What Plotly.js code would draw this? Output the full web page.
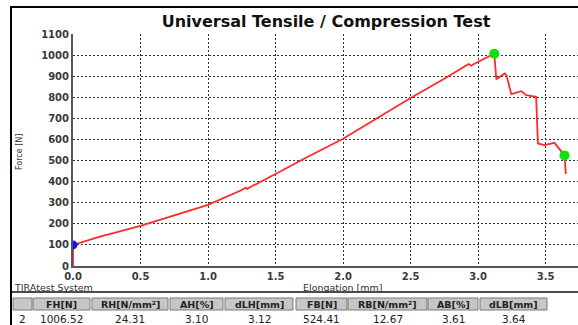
<!DOCTYPE html>
<html>
<head>
<meta charset="utf-8">
<script src="https://cdn.plot.ly/plotly-3.0.1.min.js"></script>
<style>html,body{margin:0;padding:0;background:#fff;}#chart{width:578px;height:325px;}</style>
</head>
<body>
<div id="chart"></div>
<script>
// Curve data: elongation [mm] and force [N]
const elongation = [0, 0, 0.2, 0.5, 0.75, 1.0, 1.25, 1.28, 1.29, 1.3, 1.5, 1.7, 2.0, 2.27, 2.5, 2.75, 2.93, 2.95, 2.97, 3.12, 3.135, 3.197, 3.21, 3.246, 3.32, 3.357, 3.43, 3.443, 3.49, 3.566, 3.64, 3.65];
const force      = [0, 100, 139, 190, 240, 290, 360, 372, 365, 370, 436, 505, 603, 708, 797, 888, 958, 950, 958, 1006.52, 885, 913, 905, 815, 829, 810, 802, 581, 573, 584, 524.41, 436];

// Marked points
const startX = [0], startY = [100];
const keyX = [3.12, 3.64], keyY = [1006.52, 524.41];

// Axis ticks
const xTicks = [0, 0.5, 1.0, 1.5, 2.0, 2.5, 3.0, 3.5];
const yTicks = [0, 100, 200, 300, 400, 500, 600, 700, 800, 900, 1000, 1100];

// Results table
const tableHeaders = ["", "FH[N]", "RH[N/mm²]", "AH[%]", "dLH[mm]", "FB[N]", "RB[N/mm²]", "AB[%]", "dLB[mm]"];
const tableValues  = ["2", "1006.52", "24.31", "3.10", "3.12", "524.41", "12.67", "3.61", "3.64"];

// ---- layout helpers (pixel -> paper) ----
const W = 578, H = 325, ML = 73, MR = 0, MT = 34, MB = 59;
const PW = W - ML - MR, PH = H - MT - MB;
const px = x => (x - ML) / PW;
const py = y => (H - MB - y) / PH;
const FONT = 'DejaVu Sans, Verdana, sans-serif';

const cellEdges = [[13,32],[33,90],[92,168],[170,223],[225,293],[296,347],[348,427],[428,478],[480,547]];

const shapes = [
  {type:'line', xref:'paper', yref:'paper', x0:px(11), x1:px(580), y0:py(7), y1:py(7), line:{color:'#000', width:2}},
  {type:'line', xref:'paper', yref:'paper', x0:px(11), x1:px(11), y0:py(6), y1:py(330), line:{color:'#000', width:2}},
  {type:'line', xref:'paper', yref:'paper', x0:px(11), x1:px(580), y0:py(292), y1:py(292), line:{color:'#111', width:1.5}}
];
const annotations = [
  {text:'TIRAtest System', xref:'paper', yref:'paper', x:px(12), y:py(287), xanchor:'left', yanchor:'middle', showarrow:false, font:{family:FONT, size:9.5, color:'#333'}},
  {text:'Elongation [mm]', xref:'paper', yref:'paper', x:px(342), y:py(287), xanchor:'center', yanchor:'middle', showarrow:false, font:{family:FONT, size:9.5, color:'#333'}},
  {text:'Force [N]', xref:'paper', yref:'paper', x:px(19), y:py(152), xanchor:'center', yanchor:'middle', textangle:-90, showarrow:false, font:{family:FONT, size:8, color:'#333'}}
];
cellEdges.forEach((e, i) => {
  shapes.push({type:'rect', xref:'paper', yref:'paper', x0:px(e[0]), x1:px(e[1]), y0:py(310), y1:py(298), fillcolor:'#c6c6c6', line:{color:'#7a7a7a', width:1}});
  const cx = px((e[0] + e[1]) / 2);
  if (tableHeaders[i]) annotations.push({text:tableHeaders[i], xref:'paper', yref:'paper', x:cx, y:py(304), xanchor:'center', yanchor:'middle', showarrow:false, font:{family:FONT, size:9.5, color:'#222', weight:'bold'}});
  annotations.push({text:tableValues[i], xref:'paper', yref:'paper', x:cx, y:py(319), xanchor:'center', yanchor:'middle', showarrow:false, font:{family:FONT, size:10.5, color:'#222'}});
});

const traces = [
  {x: elongation, y: force, type:'scatter', mode:'lines', line:{color:'#ff2a2a', width:1.8}, hoverinfo:'skip'},
  {x: startX, y: startY, type:'scatter', mode:'markers', marker:{color:'#1010ff', size:9}},
  {x: keyX, y: keyY, type:'scatter', mode:'markers', marker:{color:'#10e010', size:10}}
];

const axisFont = {family: FONT, size: 10, color: '#3a3a3a', weight: 'bold'};
const layout = {
  width: W, height: H,
  margin: {l: ML, r: MR, t: MT, b: MB, pad: 0},
  paper_bgcolor: '#fff', plot_bgcolor: '#fff',
  showlegend: false,
  title: {text: 'Universal Tensile / Compression Test', x: px(326), xref: 'paper', xanchor: 'center', y: 1 - 21/H, yref: 'container', yanchor: 'middle',
          font: {family: FONT, size: 16, color: '#111', weight: 'bold'}},
  xaxis: {range: [0, 3.74], tickvals: xTicks, ticktext: xTicks.map(v => v.toFixed(1)), tickfont: axisFont,
          showgrid: true, gridcolor: '#333', griddash: '2px,2px', gridwidth: 1,
          showline: true, linecolor: '#555', linewidth: 2, zeroline: false, ticks: '', fixedrange: true},
  yaxis: {range: [0, 1100], tickvals: yTicks, tickfont: axisFont,
          showgrid: true, gridcolor: '#333', griddash: '2px,2px', gridwidth: 1,
          showline: true, linecolor: '#555', linewidth: 2, zeroline: false, ticks: '', fixedrange: true},
  shapes: shapes,
  annotations: annotations
};

Plotly.newPlot('chart', traces, layout, {displayModeBar: false, staticPlot: true});
</script>
</body>
</html>
